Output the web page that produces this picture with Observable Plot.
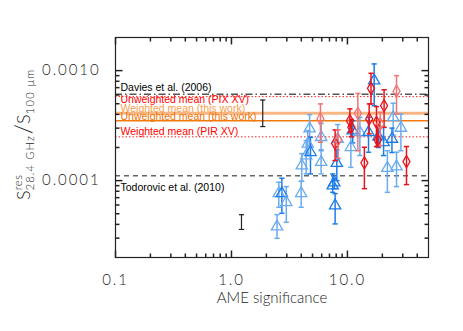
<!DOCTYPE html>
<html><head><meta charset="utf-8">
<script src="https://cdn.jsdelivr.net/npm/d3@7"></script>
<script src="https://cdn.jsdelivr.net/npm/@observablehq/plot@0.6"></script>
<style>
body{margin:0;background:#fff}
#chart svg{font-family:"Lato","DejaVu Sans",sans-serif}
g[aria-label="y-axis tick label"] text, g[aria-label="x-axis tick label"] text{letter-spacing:1.9px;font-weight:300}
</style>
</head><body><div id="chart"></div>
<script>
// ---- data ----
// Blue triangles (this work)
const blueX  = [2.47,2.56,2.72,2.97,3.99,4.04,4.41,4.72,4.55,4.80,5.93,5.93,7.46,7.7,7.83,8.24,8.1,10.7,11.1,12.8,15.2,17.0,18.5,20.5,22.1,24.8,24.2,26.5,28.9];
const blueY  = [3.82e-5,7.67e-5,7.67e-5,6.35e-5,7.67e-5,1.37e-4,1.69e-4,2.97e-4,2.16e-4,1.81e-4,2.48e-4,1.47e-4,9.0e-5,9.6e-5,5.93e-5,2.39e-4,1.44e-4,2.01e-4,2.85e-4,2.75e-4,2.75e-4,8.1e-4,2.51e-4,2.23e-4,1.30e-4,3.76e-4,2.39e-4,1.34e-4,3.01e-4];
const blueLo = [2.99e-5,5.72e-5,5.05e-5,4.18e-5,5.72e-5,9.86e-5,1.15e-4,2.08e-4,1.69e-4,1.15e-4,1.87e-4,1.15e-4,7.83e-5,8.45e-5,4.04e-5,1.57e-4,1.0e-4,1.32e-4,2.2e-4,1.69e-4,1.81e-4,4.8e-4,2.0e-4,1.69e-4,7.83e-5,2.6e-4,1.8e-4,8.82e-5,1.87e-4];
const blueHi = [4.91e-5,9.66e-5,1.05e-4,8.82e-5,9.86e-5,1.76e-4,2.31e-4,3.98e-4,2.85e-4,2.48e-4,3.3e-4,1.91e-4,1.15e-4,1.04e-4,7.62e-5,3.23e-4,1.9e-4,2.75e-4,3.5e-4,3.76e-4,3.76e-4,1.15e-3,3.1e-4,3.05e-4,1.87e-4,5.05e-4,3.0e-4,1.81e-4,4.03e-4];
const blueGroup = ["b","b","a","b","b","b","b","b","b","a","b","b","a","a","a","b","a","b","a","b","a","a","a","a","b","b","a","b","b"];
// Red diamonds
const redX  = [5.85,7.83,8.3,10.5,10.8,12.3,14.0,15.4,15.96,17.8,18.2,19.2,20.7,26.5,32.3];
const redY  = [3.64e-4,2.18e-4,2.34e-4,3.51e-4,3.05e-4,4.09e-4,1.45e-4,3.64e-4,6.9e-4,3.39e-4,2.34e-4,3.27e-4,4.8e-4,6.5e-4,1.49e-4];
const redLo = [2.23e-4,1.52e-4,1.6e-4,2.75e-4,2.5e-4,1.87e-4,8.45e-5,2.66e-4,4.98e-4,2.04e-4,2.04e-4,2.08e-4,3.05e-4,4.03e-4,9.2e-5];
const redHi = [4.98e-4,2.89e-4,2.9e-4,4.49e-4,3.6e-4,6.2e-4,2.01e-4,4.98e-4,9.45e-4,4.71e-4,3.16e-4,4.18e-4,6.7e-4,9.0e-4,2.04e-4];
const redGroup = ["b","a","b","a","a","b","a","a","a","a","a","b","a","b","a"];
// Black representative error bars
const sampleX  = [1.22, 1.86];
const sampleLo = [3.6e-5, 3.1e-4];
const sampleHi = [4.9e-5, 5.4e-4];
// Reference levels
const refNames  = ["Davies et al. (2006)","Unweighted mean (PIX XV)","Weighted mean (this work)","Unweighted mean (this work)","Weighted mean (PIR XV)","Todorovic et al. (2010)"];
const refValues = [6.1e-4, 5.8e-4, 4.1e-4, 3.5e-4, 2.5e-4, 1.11e-4];
// Ticks
const xMajor = [0.1, 1, 10];
const xMinor = [0.2,0.3,0.4,0.5,0.6,0.7,0.8,0.9,2,3,4,5,6,7,8,9,20,30,40];
const yMajor = [1e-4, 1e-3];
const yMinor = [3e-5,4e-5,5e-5,6e-5,7e-5,8e-5,9e-5,2e-4,3e-4,4e-4,5e-4,6e-4,7e-4,8e-4,9e-4];
const xTitle = "AME significance";

// ---- build tables ----
const blue = blueX.map((x,i)=>({x, y:blueY[i], lo:blueLo[i], hi:blueHi[i], g:blueGroup[i]}));
const red  = redX.map((x,i)=>({x, y:redY[i], lo:redLo[i], hi:redHi[i], g:redGroup[i]}));
const sample = sampleX.map((x,i)=>({x, lo:sampleLo[i], hi:sampleHi[i]}));
const caps = rows => rows.flatMap(d=>[{x:d.x,y:d.lo,g:d.g},{x:d.x,y:d.hi,g:d.g}]);

const blueCol = {a:"#1c7ce8", b:"#6aaaf0"};
const redCol  = {a:"#e8141c", b:"#f07474"};

const line = (dx,dy) => ({draw(ctx){ ctx.moveTo(0,0); ctx.lineTo(dx,dy); }});
const capSym = {draw(ctx){ ctx.moveTo(-2.6,0); ctx.lineTo(2.6,0); }};

const refStyle = [
  {stroke:"#555", strokeWidth:1.5, strokeDasharray:"7,3,1.5,3", fill:"#000", dy:-7},
  {stroke:"#ff2020", strokeWidth:1, strokeDasharray:"1.5,2", fill:"#ff0000", dy:3},
  {stroke:"#f9b683", strokeWidth:3, strokeDasharray:null, fill:"#f7a050", dy:-4.5},
  {stroke:"#f27a0c", strokeWidth:1.4, strokeDasharray:null, fill:"#f27000", dy:-4},
  {stroke:"#ff2020", strokeWidth:1, strokeDasharray:"1.5,2", fill:"#ff0000", dy:-5},
  {stroke:"#666", strokeWidth:1.5, strokeDasharray:"5,4", fill:"#000", dy:12}
];

const tickMarks = [];
const tk = "#222";
tickMarks.push(Plot.dot(xMajor, {x:d=>d, frameAnchor:"bottom", symbol:line(0,-7), stroke:tk, fill:"none"}));
tickMarks.push(Plot.dot(xMinor, {x:d=>d, frameAnchor:"bottom", symbol:line(0,-4), stroke:tk, fill:"none"}));
tickMarks.push(Plot.dot(xMajor, {x:d=>d, frameAnchor:"top", symbol:line(0,7), stroke:tk, fill:"none"}));
tickMarks.push(Plot.dot(xMinor, {x:d=>d, frameAnchor:"top", symbol:line(0,4), stroke:tk, fill:"none"}));
tickMarks.push(Plot.dot(yMajor, {y:d=>d, frameAnchor:"left", symbol:line(7,0), stroke:tk, fill:"none"}));
tickMarks.push(Plot.dot(yMinor, {y:d=>d, frameAnchor:"left", symbol:line(4,0), stroke:tk, fill:"none"}));
tickMarks.push(Plot.dot(yMajor, {y:d=>d, frameAnchor:"right", symbol:line(-7,0), stroke:tk, fill:"none"}));
tickMarks.push(Plot.dot(yMinor, {y:d=>d, frameAnchor:"right", symbol:line(-4,0), stroke:tk, fill:"none"}));

const refMarks = refValues.map((v,i)=>
  Plot.ruleY([v], {y:d=>d, stroke:refStyle[i].stroke, strokeWidth:refStyle[i].strokeWidth, strokeDasharray:refStyle[i].strokeDasharray})
);
const refText = refValues.map((v,i)=>
  Plot.text([i], {y:d=>refValues[d], text:d=>refNames[d], frameAnchor:"left", dx:5, dy:refStyle[i].dy,
    textAnchor:"start", fill:refStyle[i].fill, fontSize:10.5, fontFamily:"Liberation Sans", style:"letter-spacing:0.45px"})
);

const plot = Plot.plot({
  width:463, height:331,
  marginLeft:115, marginRight:35, marginTop:37, marginBottom:74,
  x:{type:"log", domain:[0.1,50]},
  y:{type:"log", domain:[2e-5,2e-3]},
  marks:[
    ...refMarks,
    ...refText,
    Plot.ruleX(sample, {x:"x", y1:"lo", y2:"hi", stroke:"#222", strokeWidth:1.2}),
    Plot.dot(sample.flatMap(d=>[{x:d.x,y:d.lo},{x:d.x,y:d.hi}]), {x:"x", y:"y", symbol:capSym, stroke:"#222", fill:"none", strokeWidth:1.2}),
    Plot.ruleX(blue, {x:"x", y1:"lo", y2:"hi", stroke:d=>blueCol[d.g], strokeWidth:1.5}),
    Plot.dot(caps(blue), {x:"x", y:"y", symbol:capSym, stroke:d=>blueCol[d.g], fill:"none", strokeWidth:1.5}),
    Plot.dot(blue, {x:"x", y:"y", symbol:"triangle", r:4.2, stroke:d=>blueCol[d.g], fill:"none", strokeWidth:1.3}),
    Plot.ruleX(red, {x:"x", y1:"lo", y2:"hi", stroke:d=>redCol[d.g], strokeWidth:1.5}),
    Plot.dot(caps(red), {x:"x", y:"y", symbol:capSym, stroke:d=>redCol[d.g], fill:"none", strokeWidth:1.5}),
    Plot.dot(red, {x:"x", y:"y", symbol:"diamond", r:3.7, stroke:d=>redCol[d.g], fill:"none", strokeWidth:1.3}),
    Plot.frame({stroke:"#222", strokeWidth:1.2}),
    ...tickMarks,
    Plot.axisX({ticks:xMajor, tickFormat:d3.format(".1f"), tickSize:0, tickPadding:17, fontSize:15, label:null, fill:"#222"}),
    Plot.axisY({ticks:yMajor, tickFormat:d3.format(".4f"), tickSize:0, tickPadding:15, fontSize:15, label:null, fill:"#222"}),
    Plot.text([xTitle], {text:d=>d, frameAnchor:"bottom", dy:45, fontSize:15, fill:"#222", fontWeight:300, style:"letter-spacing:2.2px"})
  ]
});

document.getElementById("chart").appendChild(plot);

// y-axis title with stacked super/subscripts (single rotated text element)
const svg = d3.select(plot);
const t = svg.append("text")
  .attr("transform","translate(30,200) rotate(-90)")
  .attr("text-anchor","start")
  .attr("fill","#222").attr("font-weight",300)
  .style("font-family","Lato, 'DejaVu Sans', sans-serif");
t.append("tspan").attr("font-size",18).text("S");
const res = t.append("tspan").attr("font-size",11).attr("dy",-8).style("letter-spacing","0.6px").text("res");
const resW = res.node().getComputedTextLength();
t.append("tspan").attr("font-size",11).attr("dx",-resW).attr("dy",12).style("letter-spacing","1.2px").text("28.4 GHz");
t.append("tspan").attr("font-size",23).attr("dx",1).attr("dy",-3).text("/");
t.append("tspan").attr("font-size",18).attr("dy",-1).text("S");
t.append("tspan").attr("font-size",11).attr("dy",4).style("letter-spacing","1.4px").text("100 μm");
</script>
</body></html>
